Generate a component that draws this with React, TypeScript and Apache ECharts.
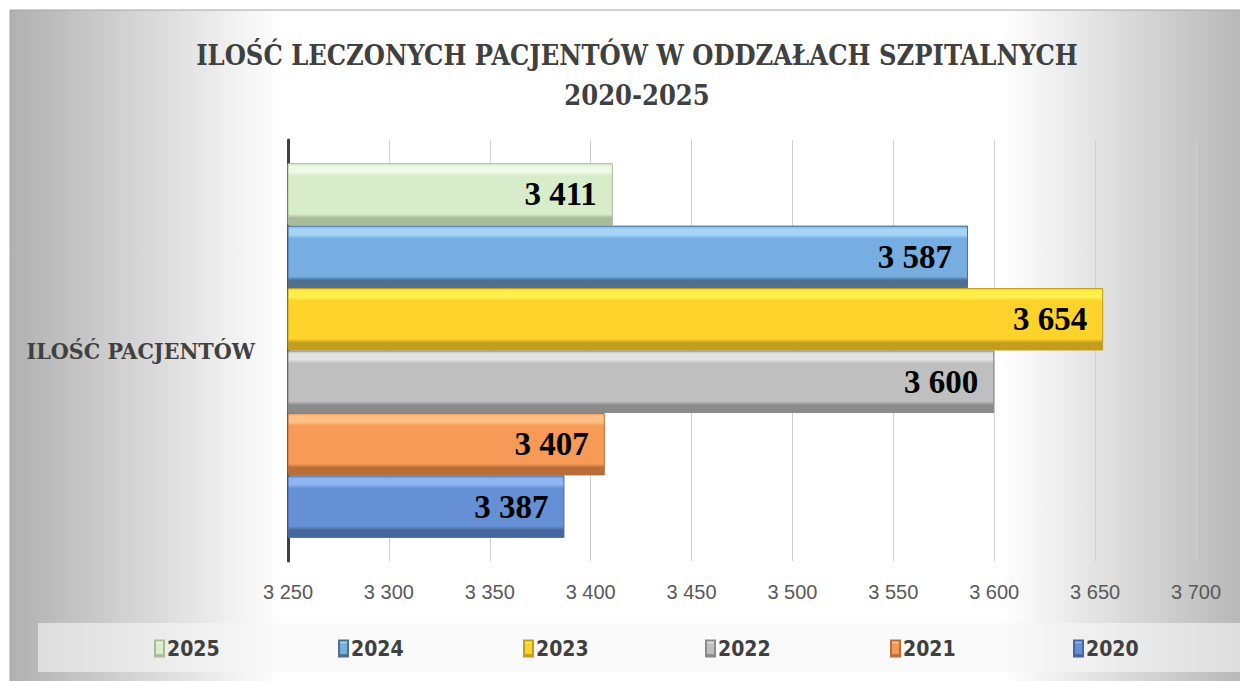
import React, { useEffect, useRef } from "react";
import * as echarts from "echarts";

const category = ["ILOŚĆ PACJENTÓW"];
const years = ["2025", "2024", "2023", "2022", "2021", "2020"];
const values = [3411, 3587, 3654, 3600, 3407, 3387];
const legendOrder = ["2025", "2024", "2023", "2022", "2021", "2020"];
const legendLefts = [149, 333, 518, 700, 885, 1068];
const faceColors = ["#d7ecc9", "#76aee2", "#fdd22b", "#bfbfbf", "#f79a58", "#6590d6"];
const lightColors = ["#eef8e6", "#a6d4f7", "#fff04c", "#e3e3e3", "#ffc088", "#8fb6f2"];
const darkColors = ["#a9bb9c", "#4f6f8f", "#c29d1e", "#8a8a8a", "#b86d3a", "#46679e"];
const xMin = 3250;
const xMax = 3700;
const xStep = 50;

const fmt = (v: number) => {
  const s = String(Math.round(v));
  return s.length > 3 ? s.slice(0, s.length - 3) + " " + s.slice(-3) : s;
};

export default function App() {
  const ref = useRef<HTMLDivElement>(null);
  useEffect(() => {
    if (!ref.current) return;
    const chart = echarts.init(ref.current, undefined, { renderer: "svg" });
    const series = years.map((y, i) => ({
      name: y,
      type: "bar",
      data: [values[i]],
      barGap: "0%",
      barCategoryGap: "11%",
      itemStyle: {
        color: {
          type: "linear",
          x: 0,
          y: 0,
          x2: 0,
          y2: 1,
          colorStops: [
            { offset: 0, color: faceColors[i] },
            { offset: 0.05, color: lightColors[i] },
            { offset: 0.14, color: lightColors[i] },
            { offset: 0.2, color: faceColors[i] },
            { offset: 0.82, color: faceColors[i] },
            { offset: 0.88, color: darkColors[i] },
            { offset: 1, color: darkColors[i] },
          ],
        },
        borderColor: darkColors[i],
        borderWidth: 1,
      },
      label: {
        show: true,
        position: "insideRight",
        distance: 16,
        formatter: (p: any) => fmt(p.value),
        fontFamily: "Liberation Serif",
        fontWeight: "bold",
        fontSize: 33,
        color: "#000000",
      },
    }));
    const legends = legendOrder.map((name, i) => ({
      data: [name],
      left: legendLefts[i],
      top: 633,
      itemWidth: 9,
      itemHeight: 16,
      itemGap: 4,
      icon: "rect",
      textStyle: {
        fontFamily: "DejaVu Sans Condensed",
        fontWeight: "bold",
        fontSize: 21,
        color: "#404040",
        padding: [0, 0, 0, -2],
      },
    }));
    chart.setOption({
      animation: false,
      graphic: [
        {
          type: "rect",
          z: -100,
          shape: { x: 10, y: 10, width: 1240, height: 690 },
          style: {
            fill: {
              type: "linear",
              x: 0,
              y: 0,
              x2: 1,
              y2: 0,
              colorStops: [
                { offset: 0, color: "#b0b0b0" },
                { offset: 0.22, color: "#ffffff" },
                { offset: 0.8, color: "#ffffff" },
                { offset: 1, color: "#b5b5b5" },
              ],
            },
            stroke: "#a6a6a6",
            lineWidth: 1,
          },
        },
        {
          type: "rect",
          z: -90,
          shape: { x: 38, y: 623, width: 1210, height: 49 },
          style: { fill: "rgba(246,246,246,0.6)" },
        },
      ],
      title: {
        text: "ILOŚĆ LECZONYCH PACJENTÓW W ODDZAŁACH SZPITALNYCH\n2020-2025",
        left: 632,
        textAlign: "center",
        top: 30,
        textStyle: {
          fontFamily: "DejaVu Serif Condensed",
          fontWeight: "bold",
          fontSize: 27,
          lineHeight: 40,
          color: "#404040",
        },
      },
      legend: legends,
      grid: { left: 288, right: 44, top: 140, bottom: 120 },
      xAxis: {
        type: "value",
        min: xMin,
        max: xMax,
        interval: xStep,
        axisLine: { show: false },
        axisTick: { show: false },
        splitLine: { show: true, lineStyle: { color: "#d0d0d0", width: 1 } },
        axisLabel: {
          formatter: (v: number) => fmt(v),
          fontFamily: "Liberation Sans",
          fontSize: 20,
          color: "#595959",
          margin: 21,
        },
      },
      yAxis: {
        type: "category",
        data: category,
        axisLine: { show: true, lineStyle: { color: "#404040", width: 3 } },
        axisTick: { show: false },
        axisLabel: {
          fontFamily: "DejaVu Serif Condensed",
          fontWeight: "bold",
          fontSize: 23,
          color: "#404040",
          margin: 33,
        },
      },
      series,
    });
    return () => chart.dispose();
  }, []);
  return (
    <div
      ref={ref}
      style={{ position: "absolute", left: 0, top: 0, width: 1240, height: 681 }}
    />
  );
}
